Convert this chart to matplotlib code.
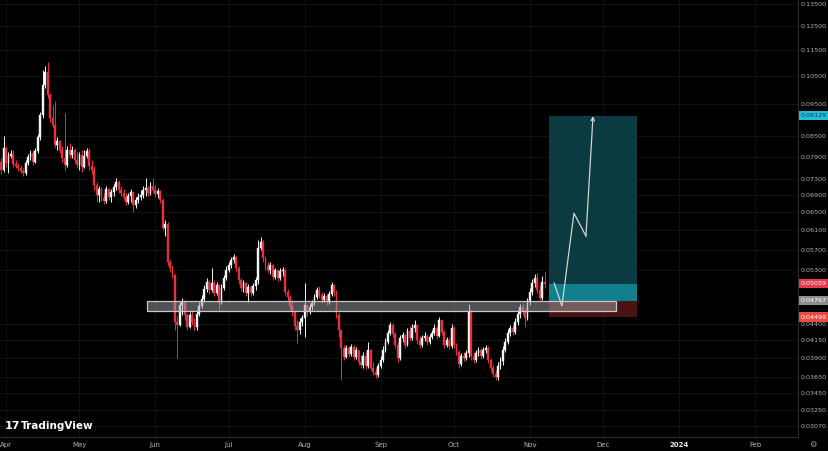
import matplotlib
matplotlib.use("Agg")
import matplotlib.pyplot as plt
import matplotlib.dates as mdates
from matplotlib.patches import Rectangle
from matplotlib.ticker import NullLocator, FixedLocator, FixedFormatter
import matplotlib.transforms as mtrans
import numpy as np
import pandas as pd

# ---------------- data (daily candles) ----------------
start_date = "2023-03-30"
first_open = 0.0775
closes = [
    0.0754, 0.0815, 0.0773, 0.0792, 0.0798, 0.0770, 0.0764, 0.0759, 0.0751, 0.0746,
    0.0773, 0.0790, 0.0801, 0.0775, 0.0806, 0.0847, 0.0915, 0.1016, 0.1063, 0.0981,
    0.0905, 0.0883, 0.0823, 0.0835, 0.0809, 0.0787, 0.0767, 0.0809, 0.0795, 0.0809,
    0.0781, 0.0767, 0.0795, 0.0762, 0.0792, 0.0806, 0.0764, 0.0754, 0.0715, 0.0691,
    0.0705, 0.0684, 0.0676, 0.0705, 0.0686, 0.0698, 0.0710, 0.0723, 0.0703, 0.0696,
    0.0686, 0.0674, 0.0688, 0.0698, 0.0667, 0.0679, 0.0686, 0.0691, 0.0703, 0.0708,
    0.0696, 0.0713, 0.0703, 0.0693, 0.0701, 0.0679, 0.0615, 0.0624, 0.0546, 0.0535,
    0.0521, 0.0443, 0.0438, 0.0470, 0.0474, 0.0453, 0.0435, 0.0453, 0.0443, 0.0435,
    0.0455, 0.0468, 0.0480, 0.0497, 0.0509, 0.0495, 0.0508, 0.0490, 0.0504, 0.0473,
    0.0499, 0.0516, 0.0531, 0.0540, 0.0550, 0.0556, 0.0535, 0.0513, 0.0499, 0.0508,
    0.0490, 0.0500, 0.0490, 0.0502, 0.0513, 0.0573, 0.0586, 0.0554, 0.0538, 0.0531,
    0.0540, 0.0518, 0.0531, 0.0516, 0.0529, 0.0531, 0.0491, 0.0483, 0.0468, 0.0458,
    0.0436, 0.0430, 0.0443, 0.0448, 0.0470, 0.0458, 0.0466, 0.0473, 0.0483, 0.0495,
    0.0486, 0.0478, 0.0485, 0.0474, 0.0488, 0.0504, 0.0491, 0.0453, 0.0430, 0.0404,
    0.0391, 0.0404, 0.0395, 0.0405, 0.0391, 0.0401, 0.0384, 0.0380, 0.0392, 0.0379,
    0.0401, 0.0377, 0.0371, 0.0367, 0.0379, 0.0387, 0.0401, 0.0412, 0.0426, 0.0438,
    0.0424, 0.0408, 0.0390, 0.0418, 0.0423, 0.0408, 0.0429, 0.0418, 0.0433, 0.0438,
    0.0415, 0.0408, 0.0418, 0.0421, 0.0412, 0.0420, 0.0426, 0.0433, 0.0421, 0.0446,
    0.0427, 0.0408, 0.0415, 0.0407, 0.0433, 0.0408, 0.0398, 0.0382, 0.0392, 0.0390,
    0.0397, 0.0458, 0.0392, 0.0387, 0.0397, 0.0401, 0.0392, 0.0401, 0.0404, 0.0387,
    0.0376, 0.0369, 0.0365, 0.0379, 0.0386, 0.0401, 0.0412, 0.0426, 0.0433, 0.0427,
    0.0443, 0.0455, 0.0466, 0.0458, 0.0448, 0.0474, 0.0491, 0.0508, 0.0516, 0.0495,
    0.0481, 0.0509, 0.05059,
]
highs = [
    0.0787, 0.0850, 0.0820, 0.0803, 0.0809, 0.0809, 0.0781, 0.0773, 0.0767, 0.0759,
    0.0781, 0.0798, 0.0809, 0.0809, 0.0815, 0.0856, 0.0925, 0.1071, 0.1086, 0.1101,
    0.0988, 0.0947, 0.0961, 0.0847, 0.0838, 0.0820, 0.0921, 0.0820, 0.0829, 0.0820,
    0.0815, 0.0803, 0.0803, 0.0809, 0.0809, 0.0815, 0.0815, 0.0781, 0.0764, 0.0723,
    0.0713, 0.0710, 0.0696, 0.0713, 0.0708, 0.0705, 0.0718, 0.0733, 0.0728, 0.0713,
    0.0705, 0.0696, 0.0696, 0.0705, 0.0691, 0.0686, 0.0696, 0.0703, 0.0713, 0.0733,
    0.0713, 0.0723, 0.0733, 0.0715, 0.0708, 0.0703, 0.0684, 0.0633, 0.0628, 0.0550,
    0.0540, 0.0523, 0.0452, 0.0474, 0.0481, 0.0478, 0.0457, 0.0458, 0.0461, 0.0448,
    0.0461, 0.0474, 0.0486, 0.0504, 0.0516, 0.0513, 0.0535, 0.0513, 0.0509, 0.0506,
    0.0506, 0.0521, 0.0538, 0.0546, 0.0556, 0.0561, 0.0558, 0.0538, 0.0516, 0.0513,
    0.0509, 0.0506, 0.0504, 0.0508, 0.0518, 0.0590, 0.0596, 0.0590, 0.0558, 0.0546,
    0.0546, 0.0542, 0.0535, 0.0531, 0.0535, 0.0536, 0.0535, 0.0497, 0.0486, 0.0478,
    0.0453, 0.0446, 0.0448, 0.0453, 0.0508, 0.0470, 0.0471, 0.0478, 0.0488, 0.0500,
    0.0502, 0.0491, 0.0490, 0.0488, 0.0493, 0.0509, 0.0506, 0.0495, 0.0458, 0.0430,
    0.0408, 0.0408, 0.0407, 0.0409, 0.0408, 0.0405, 0.0401, 0.0394, 0.0398, 0.0398,
    0.0412, 0.0398, 0.0384, 0.0376, 0.0383, 0.0392, 0.0407, 0.0418, 0.0430, 0.0443,
    0.0441, 0.0427, 0.0412, 0.0423, 0.0427, 0.0424, 0.0433, 0.0436, 0.0440, 0.0445,
    0.0438, 0.0421, 0.0423, 0.0427, 0.0424, 0.0424, 0.0430, 0.0440, 0.0436, 0.0450,
    0.0446, 0.0430, 0.0420, 0.0418, 0.0440, 0.0436, 0.0411, 0.0401, 0.0397, 0.0398,
    0.0401, 0.0471, 0.0461, 0.0398, 0.0401, 0.0405, 0.0404, 0.0405, 0.0408, 0.0407,
    0.0390, 0.0380, 0.0374, 0.0384, 0.0391, 0.0407, 0.0418, 0.0432, 0.0438, 0.0438,
    0.0448, 0.0461, 0.0471, 0.0471, 0.0465, 0.0481, 0.0498, 0.0514, 0.0523, 0.0525,
    0.0504, 0.0520, 0.0527,
]
lows = [
    0.0744, 0.0749, 0.0762, 0.0746, 0.0787, 0.0762, 0.0759, 0.0751, 0.0746, 0.0738,
    0.0741, 0.0767, 0.0781, 0.0767, 0.0773, 0.0801, 0.0838, 0.0905, 0.1005, 0.0971,
    0.0893, 0.0874, 0.0815, 0.0809, 0.0801, 0.0775, 0.0754, 0.0762, 0.0787, 0.0787,
    0.0773, 0.0759, 0.0754, 0.0749, 0.0759, 0.0787, 0.0754, 0.0744, 0.0703, 0.0674,
    0.0674, 0.0676, 0.0669, 0.0672, 0.0679, 0.0674, 0.0688, 0.0703, 0.0696, 0.0688,
    0.0679, 0.0667, 0.0669, 0.0674, 0.0651, 0.0660, 0.0672, 0.0679, 0.0684, 0.0688,
    0.0688, 0.0691, 0.0696, 0.0686, 0.0684, 0.0672, 0.0611, 0.0598, 0.0540, 0.0527,
    0.0516, 0.0430, 0.0390, 0.0436, 0.0453, 0.0446, 0.0430, 0.0433, 0.0438, 0.0430,
    0.0430, 0.0452, 0.0465, 0.0474, 0.0491, 0.0488, 0.0491, 0.0485, 0.0486, 0.0458,
    0.0471, 0.0495, 0.0513, 0.0527, 0.0535, 0.0544, 0.0529, 0.0506, 0.0493, 0.0491,
    0.0485, 0.0474, 0.0485, 0.0486, 0.0495, 0.0506, 0.0569, 0.0546, 0.0531, 0.0525,
    0.0523, 0.0513, 0.0515, 0.0511, 0.0513, 0.0520, 0.0486, 0.0478, 0.0463, 0.0452,
    0.0430, 0.0411, 0.0424, 0.0436, 0.0420, 0.0452, 0.0455, 0.0461, 0.0470, 0.0480,
    0.0481, 0.0473, 0.0474, 0.0470, 0.0471, 0.0485, 0.0485, 0.0448, 0.0420, 0.0361,
    0.0387, 0.0390, 0.0391, 0.0392, 0.0387, 0.0388, 0.0380, 0.0376, 0.0376, 0.0375,
    0.0376, 0.0374, 0.0367, 0.0363, 0.0365, 0.0376, 0.0384, 0.0398, 0.0409, 0.0423,
    0.0420, 0.0404, 0.0384, 0.0387, 0.0412, 0.0404, 0.0407, 0.0414, 0.0415, 0.0427,
    0.0409, 0.0404, 0.0405, 0.0414, 0.0408, 0.0409, 0.0417, 0.0423, 0.0417, 0.0420,
    0.0423, 0.0404, 0.0405, 0.0402, 0.0404, 0.0404, 0.0394, 0.0377, 0.0379, 0.0386,
    0.0387, 0.0391, 0.0387, 0.0383, 0.0384, 0.0392, 0.0388, 0.0390, 0.0397, 0.0383,
    0.0372, 0.0365, 0.0361, 0.0361, 0.0375, 0.0380, 0.0398, 0.0409, 0.0421, 0.0423,
    0.0424, 0.0438, 0.0448, 0.0453, 0.0435, 0.0446, 0.0470, 0.0486, 0.0500, 0.0490,
    0.0478, 0.0478, 0.0498,
]

# support zone
zone_low, zone_high = 0.0459, 0.0476
zone_start, zone_end = "2023-05-28 14:00", "2023-12-06 05:00"

# long position tool
pos_start, pos_end = "2023-11-08 19:00", "2023-12-14 19:00"
entry_price = 0.04767
target_price = 0.09129
stop_price = 0.04499
current_price = 0.05059

# projected path
path_dates = ["2023-11-10 22:00", "2023-11-14 02:00", "2023-11-19 00:00",
              "2023-11-23 22:00", "2023-11-26 19:00"]
path_prices = [0.0507, 0.0468, 0.0648, 0.0598, 0.0911]

# axes ticks
price_ticks = [0.135, 0.125, 0.115, 0.105, 0.095, 0.085, 0.079, 0.073, 0.069,
               0.065, 0.061, 0.057, 0.053, 0.044, 0.0415, 0.039, 0.0365, 0.0345,
               0.0325, 0.0307]
month_ticks = ["2023-04-01", "2023-05-01", "2023-06-01", "2023-07-01", "2023-08-01",
               "2023-09-01", "2023-10-01", "2023-11-01", "2023-12-01", "2024-01-01",
               "2024-02-01"]
month_labels = ["Apr", "May", "Jun", "Jul", "Aug", "Sep", "Oct", "Nov", "Dec", "2024", "Feb"]

# ---------------- figure ----------------
W, H = 829, 451
fig = plt.figure(figsize=(W / 100, H / 100), dpi=100, facecolor="black")
ax = fig.add_axes([0, 14 / H, 798 / W, 437 / H])
ax.set_facecolor("black")
ax.set_axisbelow(True)

dates = pd.date_range(start_date, periods=len(closes), freq="D")
xd = mdates.date2num(dates)
c = np.array(closes)
o = np.concatenate([[first_open], c[:-1]])
h = np.maximum(np.array(highs), np.maximum(o, c))
l = np.minimum(np.array(lows), np.minimum(o, c))

up_col = "#f5f5f5"
dn_col = "#e8303f"
cols = [up_col if cc >= oo else dn_col for oo, cc in zip(o, c)]

ax.vlines(xd, l, h, colors=cols, linewidth=0.7, zorder=3)
ax.bar(xd, np.abs(c - o), bottom=np.minimum(o, c), width=0.75, color=cols,
       edgecolor=cols, linewidth=0.3, zorder=4)

# position tool
ps, pe = mdates.date2num(pd.Timestamp(pos_start)), mdates.date2num(pd.Timestamp(pos_end))
ax.add_patch(Rectangle((ps, current_price), pe - ps, target_price - current_price,
                       facecolor="#0b3a40", edgecolor="none", zorder=1))
ax.add_patch(Rectangle((ps, entry_price), pe - ps, current_price - entry_price,
                       facecolor="#127f8c", edgecolor="none", zorder=1))
ax.add_patch(Rectangle((ps, stop_price), pe - ps, entry_price - stop_price,
                       facecolor="#4a1212", edgecolor="none", zorder=1))

# support zone
zs, ze = mdates.date2num(pd.Timestamp(zone_start)), mdates.date2num(pd.Timestamp(zone_end))
ax.add_patch(Rectangle((zs, zone_low), ze - zs, zone_high - zone_low,
                       facecolor="#a0a3aa", alpha=0.5, edgecolor="none", zorder=5))
ax.add_patch(Rectangle((zs, zone_low), ze - zs, zone_high - zone_low,
                       facecolor="none", edgecolor="#c8c8c8", linewidth=0.9, zorder=5))

# projected path
px = mdates.date2num(pd.to_datetime(path_dates))
ax.plot(px[:-1], path_prices[:-1], color="#cfd3d6", linewidth=0.9, zorder=6)
ax.annotate("", xy=(px[-1], path_prices[-1]), xytext=(px[-2], path_prices[-2]),
            arrowprops=dict(arrowstyle="->", color="#cfd3d6", lw=0.9,
                            mutation_scale=6, shrinkA=0, shrinkB=0), zorder=6)

# scales
ax.set_yscale("log")
ax.set_ylim(0.02955, 0.13691)
apr1 = mdates.date2num(pd.Timestamp("2023-04-01"))
ax.set_xlim(apr1 - 6 / 2.448, apr1 + 792 / 2.448)

ax.yaxis.set_major_locator(FixedLocator(price_ticks))
ax.yaxis.set_major_formatter(FixedFormatter([f"{p:.5f}" for p in price_ticks]))
ax.yaxis.set_minor_locator(NullLocator())
ax.yaxis.tick_right()
ax.tick_params(axis="y", length=0, pad=2.2, labelsize=4.6, labelcolor="#b4b4b4")

mt = mdates.date2num(pd.to_datetime(month_ticks))
ax.set_xticks(mt)
ax.set_xticklabels(month_labels)
ax.tick_params(axis="x", length=0, pad=3.5, labelsize=5, labelcolor="#b4b4b4")
for lab in ax.get_xticklabels():
    if lab.get_text() == "2024":
        lab.set_color("#e8e8e8")
        lab.set_fontweight("bold")

ax.grid(True, color="#121212", linewidth=0.7)
for s in ["top", "left"]:
    ax.spines[s].set_visible(False)
for s in ["right", "bottom"]:
    ax.spines[s].set_color("#2c2c2c")
    ax.spines[s].set_linewidth(0.8)

# price badges
trans = mtrans.blended_transform_factory(ax.transAxes, ax.transData)
badges = [(target_price, "#22c0d8", "#0f3c4a"),
          (current_price, "#e8394b", "white"),
          (entry_price, "#8d8d92", "white"),
          (stop_price, "#ec4a3c", "white")]
for price, bg, fg in badges:
    ax.text(1.0035, price, f"{price:.5f}", transform=trans, fontsize=4.6, color=fg,
            ha="left", va="center", clip_on=False, zorder=10,
            bbox=dict(boxstyle="square,pad=0.35", facecolor=bg, edgecolor="none"))

# watermark
fig.text(5 / W, 1 - 426 / H, "17", fontsize=8, fontweight="bold", color="white",
         ha="left", va="center")
fig.text(21 / W, 1 - 426 / H, "TradingView", fontsize=7.5, fontweight="bold",
         color="white", ha="left", va="center")
fig.text(813 / W, 1 - 444 / H, "\u2699", fontsize=6, color="#9a9a9a",
         ha="center", va="center")

fig.savefig("out.png", dpi=100, facecolor="black")
